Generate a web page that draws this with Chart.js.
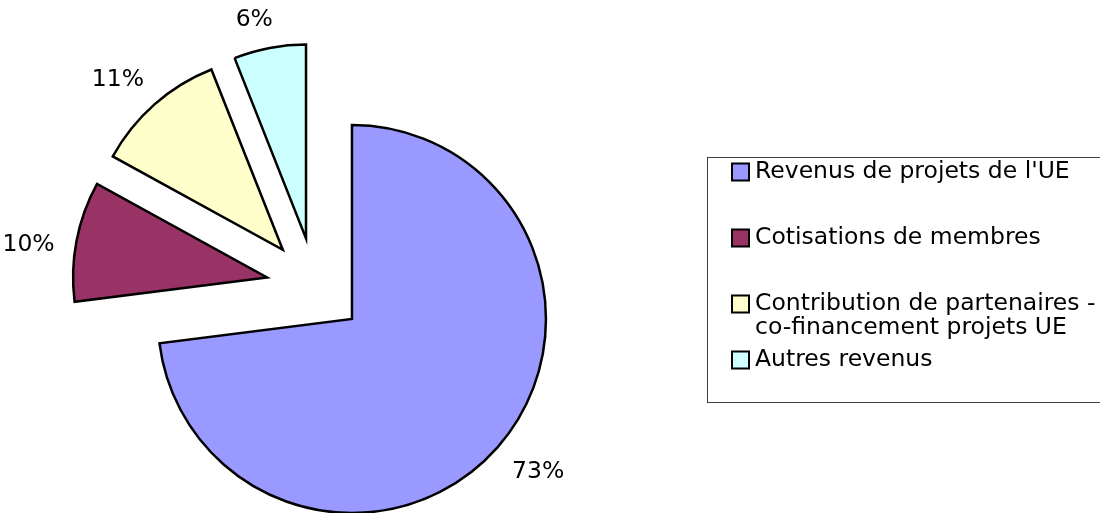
<!DOCTYPE html>
<html>
<head>
<meta charset="utf-8">
<script src="https://cdn.jsdelivr.net/npm/chart.js@4/dist/chart.umd.min.js"></script>
<style>
  html, body { margin: 0; padding: 0; background: #fff; overflow: hidden; }
  canvas { display: block; }
</style>
</head>
<body>
<canvas id="pieRevenus" width="1100" height="513"></canvas>
<script>
// categories (a multi-line label is given as an array of lines)
const categories = [
  "Revenus de projets de l'UE",
  'Cotisations de membres',
  ['Contribution de partenaires -', 'co-financement projets UE'],
  'Autres revenus'
];
// share of each source, in %
const shares = [73, 10, 11, 6];
const sliceColors = ['#9999FF', '#993366', '#FFFFCC', '#CCFFFF'];

const fontFamily = '"DejaVu Sans", Verdana, sans-serif';

// pushes every slice away from the centre, like an exploded Excel pie
const explodePlugin = {
  id: 'explode',
  afterDatasetsUpdate(chart, args, opts) {
    chart.getDatasetMeta(0).data.forEach(arc => {
      const mid = (arc.startAngle + arc.endAngle) / 2;
      arc.x += Math.cos(mid) * opts.distance;
      arc.y += Math.sin(mid) * opts.distance;
    });
  }
};

// percentage labels outside of each slice, box kept clear of the rim
const pctLabelsPlugin = {
  id: 'pctLabels',
  afterDatasetsDraw(chart, args, opts) {
    const ctx = chart.ctx;
    const values = chart.data.datasets[0].data;
    const total = values.reduce((a, b) => a + b, 0);
    ctx.save();
    ctx.font = opts.font;
    ctx.fillStyle = '#000';
    ctx.textAlign = 'center';
    ctx.textBaseline = 'alphabetic';
    chart.getDatasetMeta(0).data.forEach((arc, i) => {
      // excel puts the labels a little counter-clockwise of the slice middle
      const mid = (arc.startAngle + arc.endAngle) / 2 - opts.turn * Math.PI / 180;
      const cx = Math.cos(mid), cy = Math.sin(mid);
      const txt = Math.round(values[i] / total * 100) + '%';
      const w = ctx.measureText(txt).width;
      const half = Math.abs(cx) * w / 2 + Math.abs(cy) * opts.capHeight / 2;
      const d = arc.outerRadius + opts.gap + half;
      ctx.fillText(txt, arc.x + cx * d, arc.y + cy * d + opts.capHeight / 2);
    });
    ctx.restore();
  }
};

// boxed legend on the right
const boxLegendPlugin = {
  id: 'boxLegend',
  afterDraw(chart, args, opts) {
    const ctx = chart.ctx;
    const labels = chart.data.labels;
    const colors = chart.data.datasets[0].backgroundColor;
    ctx.save();
    ctx.strokeStyle = '#404040';
    ctx.lineWidth = 1;
    ctx.strokeRect(opts.x + 0.5, opts.y + 0.5, opts.width, opts.height);
    ctx.font = opts.font;
    ctx.textAlign = 'left';
    ctx.textBaseline = 'middle';
    labels.forEach((label, i) => {
      const lines = Array.isArray(label) ? label : [label];
      const cy = opts.rowY[i];
      ctx.fillStyle = colors[i];
      ctx.fillRect(opts.boxX, cy - opts.boxSize / 2, opts.boxSize, opts.boxSize);
      ctx.strokeStyle = '#000';
      ctx.lineWidth = 2;
      ctx.strokeRect(opts.boxX, cy - opts.boxSize / 2, opts.boxSize, opts.boxSize);
      ctx.fillStyle = '#000';
      lines.forEach((ln, j) => {
        ctx.fillText(ln, opts.textX, cy + j * opts.lineHeight);
      });
    });
    ctx.restore();
  }
};

new Chart(document.getElementById('pieRevenus'), {
  type: 'pie',
  data: {
    labels: categories,
    datasets: [{
      data: shares,
      backgroundColor: sliceColors,
      borderColor: '#000000',
      borderWidth: 2.5,
      borderJoinStyle: 'miter'
    }]
  },
  options: {
    responsive: false,
    animation: false,
    events: [],
    radius: 194,
    layout: { padding: { left: 0, right: 469.6, top: 60.2, bottom: 0 } },
    plugins: {
      legend: { display: false },
      tooltip: { enabled: false },
      explode: { distance: 49 },
      pctLabels: { gap: 20, turn: 2.4, capHeight: 17, font: '23.5px ' + fontFamily },
      boxLegend: {
        x: 707, y: 157, width: 420, height: 245,
        boxX: 732, boxSize: 17, textX: 755,
        rowY: [172, 238, 304, 360], lineHeight: 24,
        font: '23.5px ' + fontFamily
      }
    }
  },
  plugins: [explodePlugin, pctLabelsPlugin, boxLegendPlugin]
});
</script>
</body>
</html>
